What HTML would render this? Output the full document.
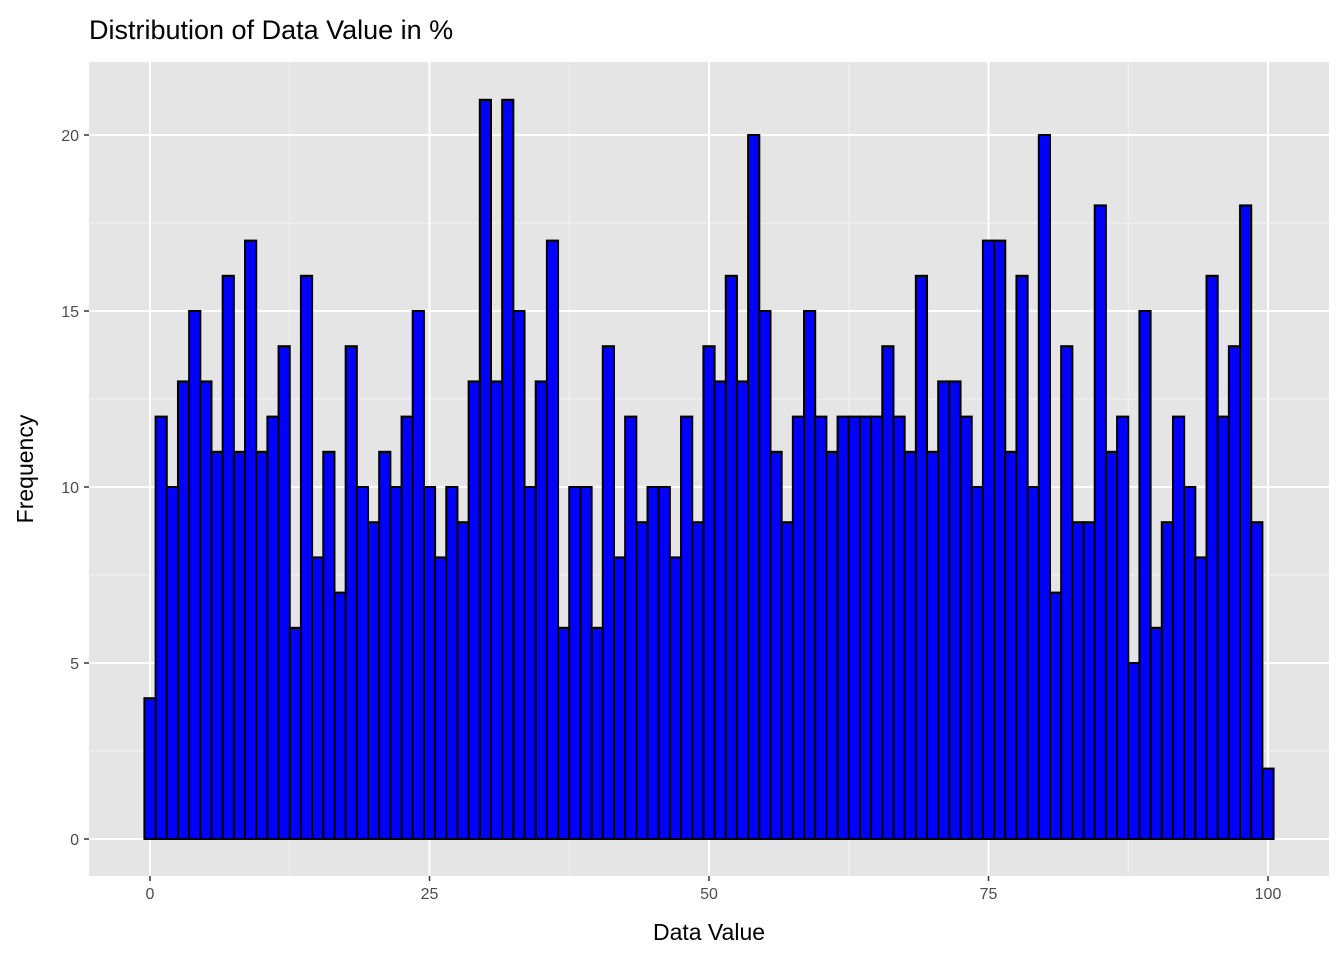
<!DOCTYPE html>
<html><head><meta charset="utf-8"><style>
body{margin:0;background:#fff;font-family:"Liberation Sans",Arial,sans-serif}
svg text{font-family:"Liberation Sans",Arial,sans-serif}
</style></head><body>
<svg id="chart" width="1344" height="960" xmlns="http://www.w3.org/2000/svg">
<text x="89" y="39" font-size="27" fill="#000">Distribution of Data Value in %</text>
<rect x="89" y="62" width="1240" height="814" fill="#e5e5e5"/>
<g id="grid"></g><g id="bars"></g><g id="axes"></g>
<text x="709" y="940" font-size="23" text-anchor="middle" fill="#000">Data Value</text>
<text transform="translate(33,469) rotate(-90)" font-size="23" text-anchor="middle" fill="#000">Frequency</text>
</svg>
<script>
const binCenters=[];for(let i=0;i<=100;i++)binCenters.push(i);
const counts=[4,12,10,13,15,13,11,16,11,17,11,12,14,6,16,8,11,7,14,10,9,11,10,12,15,10,8,10,9,13,21,13,21,15,10,13,17,6,10,10,6,14,8,12,9,10,10,8,12,9,14,13,16,13,20,15,11,9,12,15,12,11,12,12,12,12,14,12,11,16,11,13,13,12,10,17,17,11,16,10,20,7,14,9,9,18,11,12,5,15,6,9,12,10,8,16,12,14,18,9,2];
const xTicks=[0,25,50,75,100];
const yTicks=[0,5,10,15,20];
const binWidth=1;
const NS="http://www.w3.org/2000/svg";
const X=v=>150+(v)*11.18;
const Y=v=>839-v*35.2;
const L=89,R=1329,T=62,B=876;
function mk(tag,at,parent){const e=document.createElementNS(NS,tag);for(const k in at)e.setAttribute(k,at[k]);parent.appendChild(e);return e;}
const grid=document.getElementById('grid'),bars=document.getElementById('bars'),axes=document.getElementById('axes');
for(let i=0;i<xTicks.length-1;i++){const m=(xTicks[i]+xTicks[i+1])/2;
 const g=mk('line',{x1:X(m),x2:X(m),y1:T,y2:B,stroke:'#f2f2f2','stroke-width':1},grid);
 
 }
for(let i=0;i<yTicks.length;i++){const m=yTicks[i]+2.5;if(Y(m)>T){
 const g=mk('line',{x1:L,x2:R,y1:Y(m),y2:Y(m),stroke:'#f2f2f2','stroke-width':1},grid);
 
 }}
xTicks.forEach(t=>{
 const g=mk('line',{x1:X(t),x2:X(t),y1:T,y2:B,stroke:'#fff','stroke-width':2},grid);
 
 
 const tk=mk('line',{x1:X(t),x2:X(t),y1:B,y2:B+5,stroke:'#333','stroke-width':1.5},axes);
 
 
 const tx=mk('text',{x:X(t),y:B+23,'font-size':16,fill:'#4d4d4d','text-anchor':'middle'},axes);tx.textContent=t;
 
 });
yTicks.forEach(t=>{
 const g=mk('line',{x1:L,x2:R,y1:Y(t),y2:Y(t),stroke:'#fff','stroke-width':2},grid);
 
 
 const tk=mk('line',{x1:L-5,x2:L,y1:Y(t),y2:Y(t),stroke:'#333','stroke-width':1.5},axes);
 
 
 const tx=mk('text',{x:L-10,y:Y(t)+6,'font-size':16,fill:'#4d4d4d','text-anchor':'end'},axes);tx.textContent=t;
 
 });
counts.forEach((c,i)=>{const x0=X(binCenters[i]-binWidth/2),x1=X(binCenters[i]+binWidth/2);
 const r=mk('rect',{x:x0,y:Y(c),width:x1-x0,height:Y(0)-Y(c),fill:'#0000ff',stroke:'#000','stroke-width':2},bars);
 
 });
</script>
</body></html>
